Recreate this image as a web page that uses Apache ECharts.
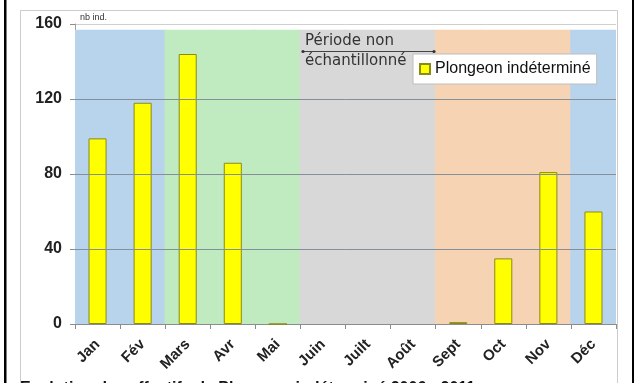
<!DOCTYPE html>
<html>
<head>
<meta charset="utf-8">
<script src="https://cdn.jsdelivr.net/npm/echarts@6/dist/echarts.min.js"></script>
<style>
  html, body { margin: 0; padding: 0; background: #fff; }
  #chart { width: 636px; height: 383px; }
</style>
</head>
<body>
<div id="chart"></div>
<script>
// Monthly counts of unidentified divers
const months = ['Jan', 'Fév', 'Mars', 'Avr', 'Mai', 'Juin', 'Juilt', 'Août', 'Sept', 'Oct', 'Nov', 'Déc'];
const plongeon = [99, 118, 144, 86, 0, null, null, null, 1, 35, 81, 60];
const yTicks = [0, 40, 80, 120, 160];

// Seasonal background bands (one per month)
const seasonOfMonth = ['hiver', 'hiver', 'printemps', 'printemps', 'printemps', 'non', 'non', 'non', 'automne', 'automne', 'automne', 'hiver'];
const bandTop = [157, 157, 157, 157, 157, 157, 157, 157, 157, 157, 157, 157];
const seasonColors = { hiver: '#B8D3EC', printemps: '#C0EAC0', non: '#D8D8D8', automne: '#F6D3B3' };

const chart = echarts.init(document.getElementById('chart'), null, { renderer: 'canvas' });

const labelFont = 'Liberation Sans, Arial, sans-serif';

chart.setOption({
  backgroundColor: '#ffffff',
  animation: false,
  grid: { left: 75, right: 20, top: 24, bottom: 59, containLabel: false },
  legend: {
    data: ['Plongeon indéterminé'],
    left: 413, top: 54,
    orient: 'horizontal',
    backgroundColor: '#ffffff',
    borderColor: '#bdbdbd', borderWidth: 1, borderRadius: 0,
    padding: [7, 6],
    itemWidth: 10, itemHeight: 10, itemGap: 5,
    icon: 'rect',
    textStyle: { fontFamily: labelFont, fontSize: 16, color: '#111' }
  },
  xAxis: [
    {
      type: 'category', data: months,
      axisLine: { show: true, lineStyle: { color: '#8c8c8c', width: 1 } },
      axisTick: { show: true, alignWithLabel: false, length: 5, lineStyle: { color: '#8c8c8c' } },
      axisLabel: {
        rotate: 45, interval: 0, margin: 18,
        fontFamily: labelFont, fontSize: 15, fontWeight: 'bold', color: '#222'
      },
      splitLine: { show: false }
    },
    {
      type: 'category', data: months, show: false
    }
  ],
  yAxis: {
    type: 'value', min: yTicks[0], max: yTicks[yTicks.length - 1], interval: 40,
    name: 'nb ind.', nameLocation: 'end', nameGap: 2,
    nameTextStyle: { align: 'left', fontFamily: labelFont, fontSize: 9, color: '#333', padding: [0, 0, 0, 5] },
    axisLine: { show: true, lineStyle: { color: '#a0a0a0' } },
    axisTick: { show: true, length: 5, lineStyle: { color: '#8c8c8c' } },
    axisLabel: { margin: 13, fontFamily: labelFont, fontSize: 16, fontWeight: 'bold', color: '#222' },
    splitLine: { show: true, lineStyle: { color: '#cfcfcf', width: 1 } }
  },
  series: [
    {
      name: 'saisons', type: 'bar', xAxisIndex: 1, barWidth: '103%', z: 1, silent: true,
      data: bandTop.map((v, i) => ({ value: v, itemStyle: { color: seasonColors[seasonOfMonth[i]] } })),
      markLine: {
        silent: true, symbol: 'none', label: { show: false },
        lineStyle: { color: '#858f99', width: 1, type: 'solid' },
        data: yTicks.slice(1, -1).map(v => ({ yAxis: v }))
      }
    },
    {
      name: 'Plongeon indéterminé', type: 'bar', xAxisIndex: 0, barWidth: '40%', z: 3,
      data: plongeon,
      itemStyle: { color: '#FFFF00', borderColor: '#8a8a1a', borderWidth: 1 }
    }
  ],
  graphic: [
    // outer page rules
    { type: 'rect', shape: { x: 4, y: 0, width: 2.5, height: 383 }, style: { fill: '#000' }, silent: true },
    { type: 'rect', shape: { x: 632, y: 0, width: 2, height: 383 }, style: { fill: '#000' }, silent: true },
    // chart frame
    { type: 'rect', shape: { x: 20.5, y: 10.5, width: 597, height: 400 }, style: { fill: 'none', stroke: '#cccccc', lineWidth: 1 }, silent: true, z: -10 },
    // unsampled-period annotation
    { type: 'text', left: 305, top: 34, style: { text: 'Période non', fontFamily: 'DejaVu Sans, sans-serif', fontSize: 15, fill: '#333' }, z: 20 },
    { type: 'text', left: 305, top: 54, style: { text: 'échantillonné', fontFamily: 'DejaVu Sans, sans-serif', fontSize: 15, fill: '#333' }, z: 20 },
    { type: 'line', shape: { x1: 303, y1: 51.5, x2: 434, y2: 51.5 }, style: { stroke: '#444', lineWidth: 1 }, z: 20 },
    { type: 'circle', shape: { cx: 303, cy: 51.5, r: 1.6 }, style: { fill: '#333' }, z: 20 },
    { type: 'circle', shape: { cx: 434, cy: 51.5, r: 1.6 }, style: { fill: '#333' }, z: 20 },
    // caption below the frame
    { type: 'text', left: 20, top: 381, style: { text: 'Evolution des effectifs de Plongeon indéterminé 2006 - 2011', fontFamily: labelFont, fontSize: 16, fontWeight: 'bold', fill: '#111' }, z: 20 }
  ]
});
</script>
</body>
</html>
